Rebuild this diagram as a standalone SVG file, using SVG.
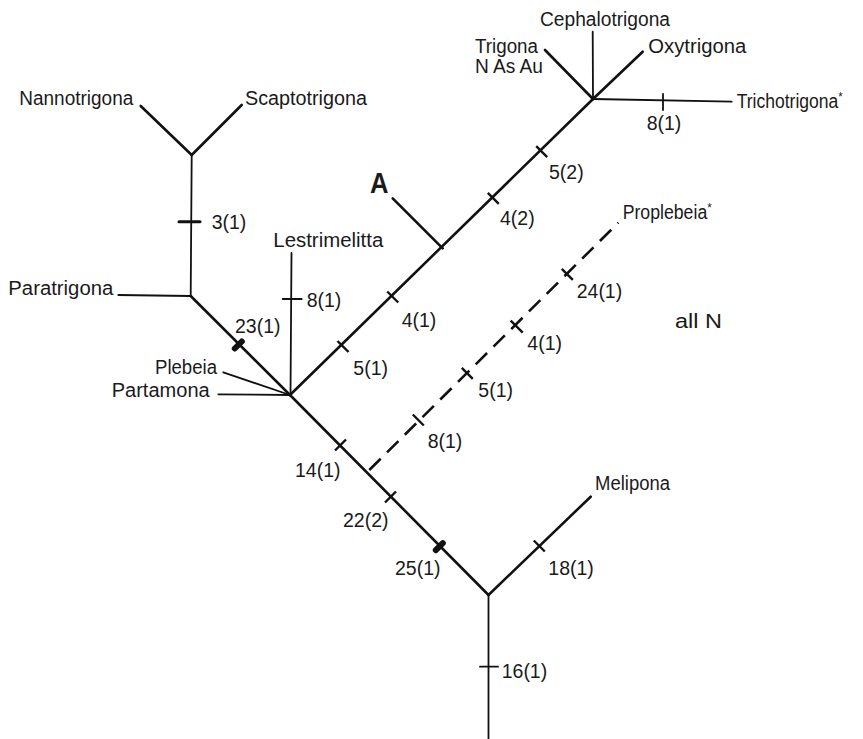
<svg xmlns="http://www.w3.org/2000/svg" width="863" height="739" viewBox="0 0 863 739">
<style>
.t{font-family:"Liberation Sans",Arial,sans-serif;font-size:20px;fill:#1a1a1a}
.n{font-family:"Liberation Sans",Arial,sans-serif;font-size:19.5px;fill:#1a1a1a}
.b{stroke:#111;stroke-width:2.6;fill:none;stroke-linecap:round}
.s{stroke:#111;stroke-width:1.8;fill:none;stroke-linecap:round}
.d{stroke:#111;stroke-width:2.6;fill:none;stroke-dasharray:16 9}
.k{stroke:#111;stroke-width:2.4;fill:none}
.kk{stroke:#111;stroke-width:6;fill:none;stroke-linecap:round}
.sup{font-size:13px}
</style>
<rect width="863" height="739" fill="#fff"/>
<g id="connectors">
<line class="s" x1="488.5" y1="595" x2="488.5" y2="739"/>
<line class="b" x1="488.5" y1="595" x2="290" y2="395"/>
<line class="b" x1="488.5" y1="595" x2="590.7" y2="496.7"/>
<line class="b" x1="290" y1="395" x2="593" y2="99"/>
<line class="s" x1="593" y1="99" x2="592.7" y2="31.7"/>
<line class="b" x1="593" y1="99" x2="545" y2="50"/>
<line class="b" x1="593" y1="99" x2="642.7" y2="51.7"/>
<line class="s" x1="593" y1="99" x2="731.7" y2="101.7"/>
<line class="b" x1="442.7" y1="248.3" x2="392.7" y2="198.3"/>
<line class="s" x1="291.5" y1="253" x2="290.5" y2="395"/>
<line class="b" x1="290" y1="395" x2="190.7" y2="296"/>
<line class="s" x1="190.7" y1="296" x2="118.3" y2="295"/>
<line class="s" x1="190.7" y1="296" x2="191.7" y2="155"/>
<line class="b" x1="191.7" y1="155" x2="140.7" y2="106"/>
<line class="b" x1="191.7" y1="155" x2="241.7" y2="105"/>
<line class="s" x1="290" y1="395" x2="223.3" y2="372.3"/>
<line class="s" x1="290" y1="395" x2="218.3" y2="394.3"/>
<line class="d" x1="369.3" y1="470" x2="618.3" y2="222.7"/>
</g>
<g id="ticks">
<line class="k" x1="536.2" y1="146.2" x2="547.2" y2="157.2"/>
<line class="k" x1="487.8" y1="192.8" x2="498.8" y2="203.8"/>
<line class="k" x1="387.2" y1="291.5" x2="398.2" y2="302.5"/>
<line class="k" x1="337.5" y1="341" x2="348.5" y2="352"/>
<line class="k" x1="533.8" y1="540.5" x2="544.8" y2="551.5"/>
<line class="k" x1="335" y1="450.5" x2="346" y2="439.5"/>
<line class="k" x1="385" y1="502.5" x2="396" y2="491.5"/>
<line class="kk" x1="435.8" y1="550.2" x2="442.8" y2="543.2"/>
<line class="kk" x1="234.8" y1="348.5" x2="241.8" y2="341.5"/>
<line class="k" x1="561.8" y1="268.8" x2="572.8" y2="279.8"/>
<line class="k" x1="510.7" y1="320.7" x2="522.7" y2="332.7"/>
<line class="k" x1="461.8" y1="367.8" x2="472.8" y2="378.8"/>
<line class="k" x1="412.8" y1="414.5" x2="423.8" y2="425.5"/>
<line class="s" x1="179" y1="221.7" x2="200" y2="221.7" style="stroke-width:3"/>
<line class="s" x1="282.7" y1="299" x2="301.7" y2="299"/>
<line class="s" x1="480" y1="666.7" x2="498" y2="666.7"/>
<line class="s" x1="663" y1="94" x2="663" y2="110"/>
</g>
<g id="Cephalotrigona"><text class="t" x="540" y="26" textLength="130" lengthAdjust="spacingAndGlyphs">Cephalotrigona</text></g>
<g id="Trigona"><text class="t" x="475" y="52.7" textLength="63" lengthAdjust="spacingAndGlyphs">Trigona</text><text class="t" x="475" y="73.3" textLength="68" lengthAdjust="spacingAndGlyphs">N As Au</text></g>
<g id="Oxytrigona"><text class="t" x="648.3" y="52.7" textLength="98" lengthAdjust="spacingAndGlyphs">Oxytrigona</text></g>
<g id="Trichotrigona"><text class="t" x="736.7" y="108.3" textLength="106" lengthAdjust="spacingAndGlyphs">Trichotrigona<tspan class="sup" dy="-7">*</tspan></text></g>
<g id="Nannotrigona"><text class="t" x="19.3" y="105" textLength="114" lengthAdjust="spacingAndGlyphs">Nannotrigona</text></g>
<g id="Scaptotrigona"><text class="t" x="245" y="105" textLength="122" lengthAdjust="spacingAndGlyphs">Scaptotrigona</text></g>
<g id="Paratrigona"><text class="t" x="8.3" y="295" textLength="105" lengthAdjust="spacingAndGlyphs">Paratrigona</text></g>
<g id="Lestrimelitta"><text class="t" x="273.3" y="246.7" textLength="110" lengthAdjust="spacingAndGlyphs">Lestrimelitta</text></g>
<g id="Plebeia"><text class="t" x="155" y="374" textLength="62" lengthAdjust="spacingAndGlyphs">Plebeia</text></g>
<g id="Partamona"><text class="t" x="111.7" y="397.3" textLength="98" lengthAdjust="spacingAndGlyphs">Partamona</text></g>
<g id="Melipona"><text class="t" x="595" y="490" textLength="75" lengthAdjust="spacingAndGlyphs">Melipona</text></g>
<g id="Proplebeia"><text class="t" x="622.7" y="219" textLength="89" lengthAdjust="spacingAndGlyphs">Proplebeia<tspan class="sup" dy="-7">*</tspan></text></g>
<g id="allN"><text class="t" x="675" y="328.3" textLength="47" lengthAdjust="spacingAndGlyphs">all N</text></g>
<g id="A"><text class="t" x="370" y="193.3" textLength="18.5" lengthAdjust="spacingAndGlyphs" style="font-size:30px;font-weight:bold">A</text></g>
<g id="labels">
<text class="n" x="646.7" y="129.5">8(1)</text>
<text class="n" x="549" y="179">5(2)</text>
<text class="n" x="500" y="225">4(2)</text>
<text class="n" x="401.7" y="326.7">4(1)</text>
<text class="n" x="353.3" y="375">5(1)</text>
<text class="n" x="211.7" y="229">3(1)</text>
<text class="n" x="306.7" y="307.3">8(1)</text>
<text class="n" x="235" y="333.3">23(1)</text>
<text class="n" x="576.7" y="298.3">24(1)</text>
<text class="n" x="527.3" y="350">4(1)</text>
<text class="n" x="478.3" y="396.7">5(1)</text>
<text class="n" x="427.7" y="448.3">8(1)</text>
<text class="n" x="295" y="476.7">14(1)</text>
<text class="n" x="343" y="526.7">22(2)</text>
<text class="n" x="395" y="575">25(1)</text>
<text class="n" x="548.3" y="575">18(1)</text>
<text class="n" x="501.7" y="678">16(1)</text>
</g>
</svg>
